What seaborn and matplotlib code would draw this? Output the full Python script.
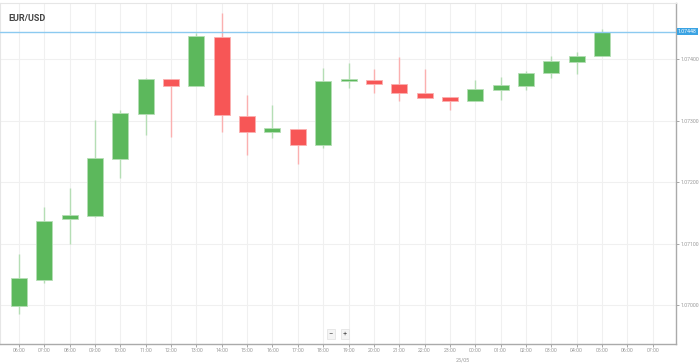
import numpy as np
import pandas as pd
import matplotlib
matplotlib.use("Agg")
import matplotlib.pyplot as plt
import seaborn as sns

hours = ["06:00", "07:00", "08:00", "09:00", "10:00", "11:00", "12:00", "13:00",
         "14:00", "15:00", "16:00", "17:00", "18:00", "19:00", "20:00", "21:00",
         "22:00", "23:00", "00:00", "01:00", "02:00", "03:00", "04:00", "05:00"]
opens = [1.06998, 1.07041, 1.07140, 1.07145, 1.07237, 1.07311, 1.07367, 1.07356,
         1.07435, 1.07308, 1.07282, 1.07287, 1.07260, 1.07364, 1.07366, 1.07360,
         1.07344, 1.07339, 1.07331, 1.07350, 1.07356, 1.07378, 1.07395, 1.07405]
highs = [1.07083, 1.07160, 1.07190, 1.07301, 1.07317, 1.07369, 1.07367, 1.07443,
         1.07475, 1.07341, 1.07326, 1.07287, 1.07386, 1.07393, 1.07384, 1.07404,
         1.07383, 1.07339, 1.07366, 1.07370, 1.07380, 1.07405, 1.07411, 1.07449]
lows = [1.06985, 1.07036, 1.07099, 1.07143, 1.07207, 1.07276, 1.07273, 1.07356,
        1.07281, 1.07244, 1.07271, 1.07229, 1.07255, 1.07353, 1.07345, 1.07332,
        1.07336, 1.07317, 1.07331, 1.07333, 1.07350, 1.07369, 1.07375, 1.07405]
closes = [1.07044, 1.07137, 1.07147, 1.07239, 1.07312, 1.07367, 1.07356, 1.07437,
          1.07309, 1.07281, 1.07288, 1.07260, 1.07365, 1.07367, 1.07359, 1.07345,
          1.07336, 1.07332, 1.07351, 1.07357, 1.07378, 1.07396, 1.07405, 1.07444]
tick_labels = hours + ["06:00", "07:00"]
y_ticks = [1.07000, 1.07100, 1.07200, 1.07300, 1.07400]
last_price = 1.07448
date_label = "25/05"
title = "EUR/USD"

df = pd.DataFrame({"hour": hours, "open": opens, "high": highs,
                   "low": lows, "close": closes})
df["x"] = np.arange(len(df))
df["up"] = df["close"] >= df["open"]

sns.set_theme(style="white")
plt.rcParams["font.family"] = ["Roboto", "DejaVu Sans"]

GREEN = "#5cb85c"
RED = "#f75656"
GREEN_W = "#b5deb5"
RED_W = "#fbb0b0"

fig = plt.figure(figsize=(6.99, 3.63), dpi=100)
ax = fig.add_axes([0.0, 1 - 344 / 363, 676 / 699, 341 / 363])

xmin, xmax = -0.75, 25.92
ax.set_xlim(xmin, xmax)
ax.set_ylim(1.06937, 1.07491)

# grid
for i in range(len(tick_labels)):
    ax.axvline(i, color="#f0f0f0", lw=0.8, zorder=0)
for y in y_ticks:
    ax.axhline(y, color="#f0f0f0", lw=0.8, zorder=0)

# wicks
for up, wc in [(True, GREEN_W), (False, RED_W)]:
    d = df[df["up"] == up]
    ax.vlines(d["x"], d["low"], d["high"], color=wc, lw=1.0, zorder=2)

# bodies
for up, fc, ec in [(True, GREEN, GREEN_W), (False, RED, RED_W)]:
    d = df[df["up"] == up]
    bottom = np.minimum(d["open"], d["close"])
    height = np.maximum(np.abs(d["close"] - d["open"]), 0.000035)
    ax.bar(d["x"], height, bottom=bottom, width=0.63, color=fc,
           edgecolor=ec, linewidth=0.6, zorder=3)

# last price line
ax.axhline(last_price - 0.00004, color="#8ccaf0", lw=1.0, zorder=4)

ax.set_xticks(range(len(tick_labels)))
ax.set_xticklabels(tick_labels)
ax.set_yticks(y_ticks)
ax.set_yticklabels([f"{v:.5f}" for v in y_ticks])
ax.yaxis.tick_right()
ax.tick_params(axis="both", labelsize=3.7, colors="#999999", length=2,
               width=0.6, pad=1.2, direction="out")
ax.tick_params(axis="x", bottom=True, labelcolor="#999999")
ax.tick_params(axis="y", right=True, labelcolor="#999999")

for s in ["top", "left"]:
    ax.spines[s].set_color("#e6e6e6")
    ax.spines[s].set_linewidth(0.8)
for s in ["bottom", "right"]:
    ax.spines[s].set_color("#aaaaaa")
    ax.spines[s].set_linewidth(1.0)

# last price label box
ax.text(1.003, last_price - 0.00004, f"{last_price:.5f}", transform=ax.get_yaxis_transform(),
        fontsize=3.7, color="white", va="center", ha="left",
        bbox=dict(boxstyle="square,pad=0.2", fc="#3aa3e3", ec="none"),
        clip_on=False, zorder=6)

# date label
ax.text(17.5, -0.04, date_label, transform=ax.get_xaxis_transform(),
        fontsize=3.9, color="#999999", ha="center", va="top")

# title
ax.text(0.013, 0.955, title, transform=ax.transAxes, fontsize=6.5,
        fontweight="bold", color="#444444", ha="left", va="center")

# zoom buttons
for xx, t in [(12.3, "\u2212"), (12.85, "+")]:
    ax.text(xx, 0.03, t, transform=ax.get_xaxis_transform(), fontsize=5.5,
            color="#555555", ha="center", va="center",
            bbox=dict(boxstyle="square,pad=0.25", fc="#f4f4f4", ec="#e0e0e0", lw=0.5),
            zorder=6)

fig.savefig("out.png", dpi=100)
